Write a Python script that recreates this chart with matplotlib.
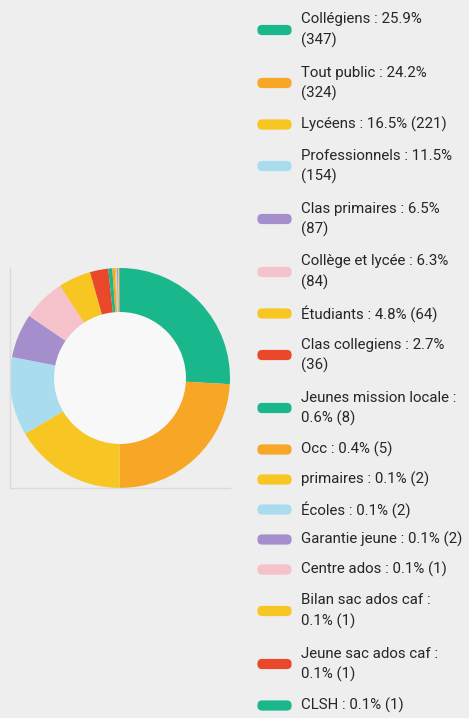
import matplotlib
matplotlib.use("Agg")
import matplotlib.pyplot as plt
from matplotlib.patches import FancyBboxPatch, Circle

labels = ["Collégiens", "Tout public", "Lycéens", "Professionnels", "Clas primaires",
          "Collège et lycée", "Étudiants", "Clas collegiens", "Jeunes mission locale",
          "Occ", "primaires", "Écoles", "Garantie jeune", "Centre ados",
          "Bilan sac ados caf", "Jeune sac ados caf", "CLSH"]
values = [347, 324, 221, 154, 87, 84, 64, 36, 8, 5, 2, 2, 2, 1, 1, 1, 1]
# where the legend text wraps: 'n' = before the count, 'c' = after the colon, '' = no wrap
wraps = ['n', 'n', '', 'n', 'n', 'n', '', 'n', 'c', '', '', '', '', '', 'c', 'c', '']
palette = ["#1ab68c", "#f7a626", "#f7c623", "#aadcf0", "#a48ecc", "#f5c1ca", "#f7c623", "#ea482a"]
colors = [palette[i % len(palette)] for i in range(len(values))]

W, H = 469, 718
bg = "#eeeeee"
fig = plt.figure(figsize=(W / 100, H / 100), dpi=100, facecolor=bg)

# donut axes (pixel box x 10-230, y 268-488 from top)
ax = fig.add_axes([10 / W, (H - 488) / H, 220 / W, 220 / H])
ax.set_facecolor("none")
ax.pie(values, colors=colors, startangle=90, counterclock=False, radius=1.0,
       wedgeprops=dict(width=0.4, linewidth=0))
ax.add_patch(Circle((0, 0), 0.6, facecolor="#f8f8f8", edgecolor="none", zorder=0))
ax.set_frame_on(True)
ax.patch.set_visible(False)
ax.set_xlim(-1.0, 1.0)
ax.set_ylim(-1.0, 1.0)
ax.set_aspect("auto")
for s in ["top", "right"]:
    ax.spines[s].set_visible(False)
for s in ["left", "bottom"]:
    ax.spines[s].set_visible(True)
    ax.spines[s].set_color("#dadada")
    ax.spines[s].set_linewidth(1.0)
ax.set_xticks([])
ax.set_yticks([])

# legend
total = sum(values)
lax = fig.add_axes([0, 0, 1, 1])
lax.set_xlim(0, W)
lax.set_ylim(H, 0)
lax.axis("off")
single_h, double_h = 30.0, 53.0
line_gap = 21.0
y = 30.0 - double_h / 2
for lab, v, wr, c in zip(labels, values, wraps, colors):
    pct = f"{100 * v / total:.1f}%"
    if wr == 'n':
        lines = [f"{lab} : {pct}", f"({v})"]
    elif wr == 'c':
        lines = [f"{lab} :", f"{pct} ({v})"]
    else:
        lines = [f"{lab} : {pct} ({v})"]
    h = double_h if len(lines) == 2 else single_h
    cy = y + h / 2
    lax.add_patch(FancyBboxPatch((262, cy - 0.5), 25, 1.0,
                                 boxstyle="round,pad=4.6,rounding_size=4.8",
                                 facecolor=c, edgecolor="none"))
    if len(lines) == 2:
        ys = [cy - line_gap / 2, cy + line_gap / 2]
    else:
        ys = [cy]
    for ln, ty in zip(lines, ys):
        lax.text(301, ty, ln, fontsize=10.8, family=["Roboto", "DejaVu Sans"],
                 color="#262626", va="center", ha="left")
    y += h

fig.savefig("out.png", dpi=100, facecolor=bg)
